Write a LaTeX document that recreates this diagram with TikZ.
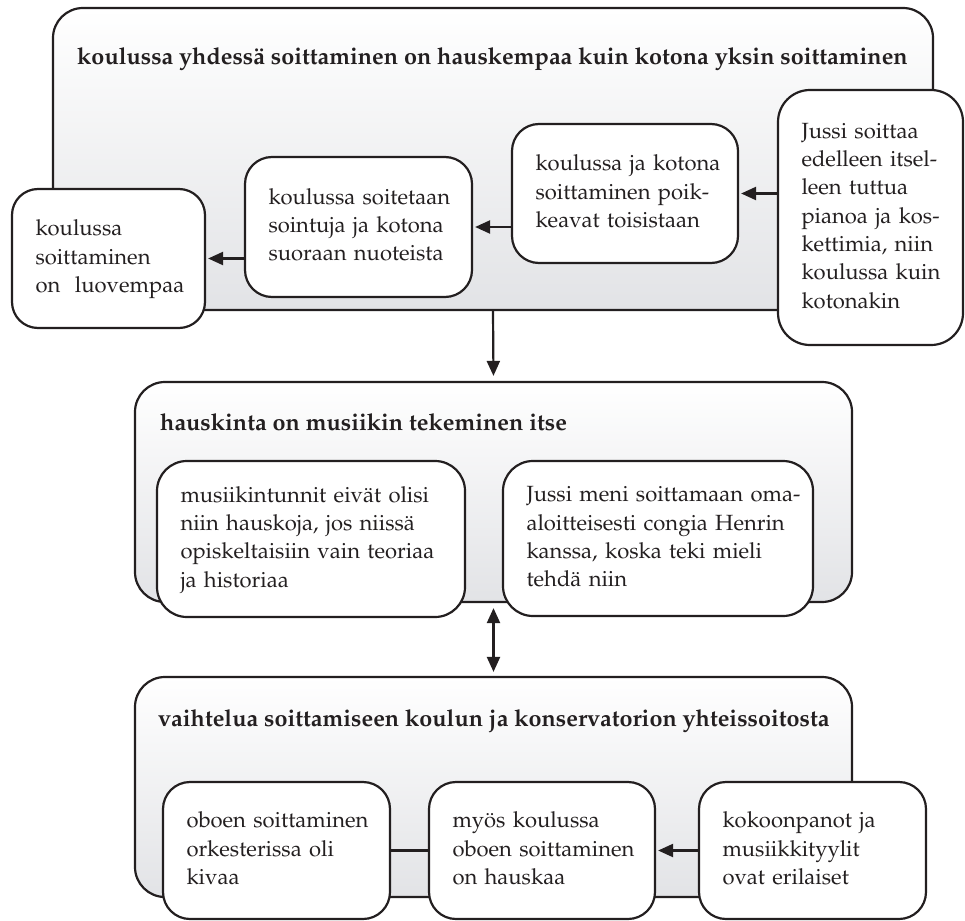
\documentclass[tikz,border=0pt]{standalone}
\usepackage[T1]{fontenc}
\renewcommand{\rmdefault}{ppl}
\usetikzlibrary{arrows.meta}

\definecolor{inkdark}{RGB}{35,31,32}
\definecolor{panelgray}{RGB}{226,227,230}

% left-aligned block of lines that never re-wraps
\newcommand{\stack}[1]{\begin{tabular}{@{}l@{}}#1\end{tabular}}

\tikzset{
  bodyfont/.style={font=\fontsize{22}{28.3}\selectfont},
  panel/.style={draw=inkdark, line width=2.2pt, rounded corners=30pt,
    top color=white, bottom color=panelgray, inner sep=0pt},
  heading/.style={font=\fontsize{23.4}{28.3}\selectfont\bfseries, text=inkdark,
    inner sep=0pt, anchor=base west},
  card/.style={draw=inkdark, line width=2.2pt, rounded corners=27pt, fill=white,
    text=inkdark, bodyfont, align=left, inner xsep=23.5pt, inner ysep=0pt},
  link/.style={draw=inkdark, line width=2.2pt},
  arrowlink/.style={link, -{Triangle[length=15pt,width=13pt]}, shorten >=2pt},
  twoway/.style={link, {Triangle[length=15pt,width=13pt]}-{Triangle[length=15pt,width=13pt]},
    shorten >=4pt, shorten <=5pt}
}

\begin{document}
\begin{tikzpicture}[x=1pt,y=-1pt]
\useasboundingbox (0,0) rectangle (965,920);

% ---- upper panel ----
\node[panel, minimum width=880pt, minimum height=302pt] (topP) at (493,159) {};
\node[heading] (topH) at (77,65)
  {koulussa yhdessä soittaminen on hauskempaa kuin kotona yksin soittaminen};

\node[card, text width=146pt, minimum height=139pt, rounded corners=26pt] (a) at (108.5,258.5)
  {\stack{koulussa\\ soittaminen\\ on\ \ luovempaa}};
\node[card, text width=180pt, minimum height=140pt] (b) at (358.5,227)
  {\stack{koulussa soitetaan\\ sointuja ja kotona\\ suoraan nuoteista}};
\node[card, text width=179pt, minimum height=139pt] (c) at (625,193.5)
  {\stack{koulussa ja kotona\\ soittaminen poik-\\ keavat toisistaan}};
\node[card, text width=138pt, minimum height=255pt, rounded corners=32pt] (d) at (870.5,217.5)
  {\stack{Jussi soittaa\\ edelleen itsel-\\ leen tuttua\\ pianoa ja kos-\\ kettimia, niin\\ koulussa kuin\\ kotonakin}};

% ---- middle panel ----
\node[panel, minimum width=717pt, minimum height=220pt] (midP) at (493.5,492) {};
\node[heading] (midH) at (160,430) {hauskinta on musiikin tekeminen itse};

\node[card, text width=261pt, minimum height=156pt, rounded corners=30pt] (e) at (311,539)
  {\stack{musiikintunnit eivät olisi\\ niin hauskoja, jos niissä\\ opiskeltaisiin vain teoriaa\\ ja historiaa}};
\node[card, text width=263pt, minimum height=155pt, rounded corners=30pt] (f) at (658,538.5)
  {\stack{Jussi meni soittamaan oma-\\ aloitteisesti congia Henrin\\ kanssa, koska teki mieli\\ tehdä niin}};

% ---- lower panel ----
\node[panel, minimum width=717pt, minimum height=220pt] (lowP) at (493.5,787) {};
\node[heading] (lowH) at (158,726)
  {vaihtelua soittamiseen koulun ja konservatorion yhteissoitosta};

\node[card, text width=180pt, minimum height=137pt] (g) at (276.5,850.5)
  {\stack{oboen soittaminen\\ orkesterissa oli\\ kivaa}};
\node[card, text width=179pt, minimum height=137pt] (h) at (542,850.5)
  {\stack{myös koulussa\\ oboen soittaminen\\ on hauskaa}};
\node[card, text width=180pt, minimum height=137pt] (i) at (812.5,850.5)
  {\stack{kokoonpanot ja\\ musiikkityylit\\ ovat erilaiset}};

% ---- connectors ----
\draw[arrowlink] (d.west |- c.east) -- (c.east);
\draw[arrowlink] (c.west |- b.east) -- (b.east);
\draw[arrowlink] (b.west |- a.east) -- (a.east);
\draw[arrowlink, shorten >=5pt] (topP.south) -- (midP.north);
\draw[twoway] (midP.south) -- (lowP.north);
\draw[link] (g.east) -- (h.west);
\draw[arrowlink] (i.west) -- (h.east);
\end{tikzpicture}
\end{document}
